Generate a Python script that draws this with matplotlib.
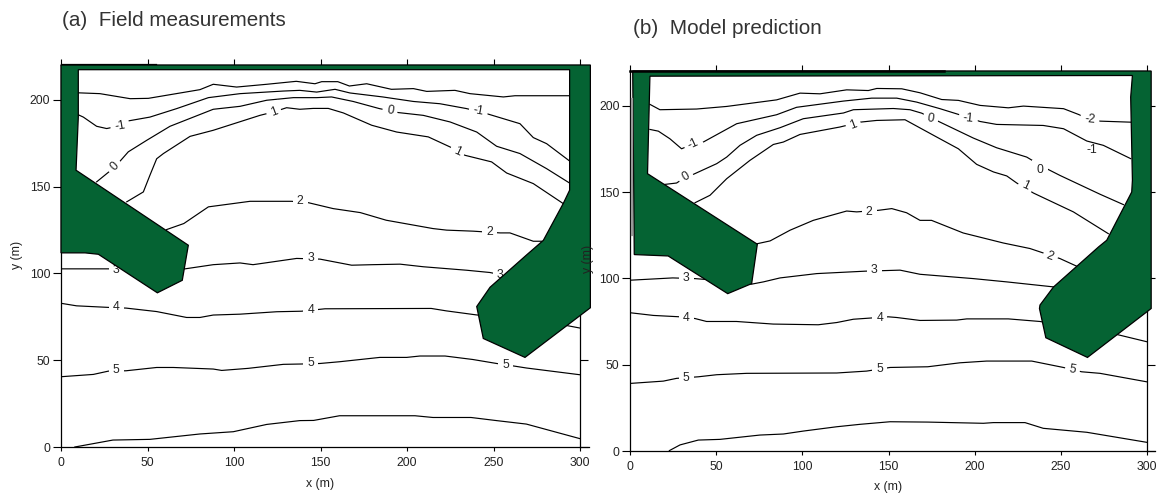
import numpy as np
import matplotlib
matplotlib.use("Agg")
import matplotlib.pyplot as plt
from matplotlib.patches import Polygon

plt.rcParams['font.family'] = ['Liberation Sans', 'DejaVu Sans']

GREEN = '#056333'
W, H = 1161, 494

# levels drawn on both panels (the last contour has no label in the picture)
x_ticks = [0, 50, 100, 150, 200, 250, 300]
y_ticks = [0, 50, 100, 150, 200]

a_m2 = [(9.4,204),(22.5,203.5),(40,200.6),(50.5,200.8),(80.3,205.8),(88,208.9),(101.5,207.3),(119,208.9),(136,210.6),(146.8,209.2),(150.7,210.4),(160,210.4),(166.7,207.9),(176.7,209.2),(191,206),(203.7,206.4),(211.4,204.8),(227.7,205.4),(236.4,203.5),(255.7,201.6),(262.4,202.3),(294,202.3)]
a_m1 = [(9.4,191.6),(12.9,190),(20.6,184.7),(26.4,183.4),(34,185),(38.9,187.8),(51.4,190),(66.9,194.9),(85.2,201.2),(103.5,203.5),(128.5,205),(138,205.4),(147.8,204.4),(158.4,206),(167,203.9),(186,201.6),(203.7,199),(219,197.7),(234.4,194.9),(246,192),(265.3,186.2),(273,178.2),(280.7,174.7),(294,164.7)]
a_0 = [(20.6,152.7),(31.2,161.3),(38.9,170),(49.5,176.6),(63,184.7),(88,194.5),(103.5,196.2),(118.9,199.7),(134.3,201.2),(147.8,201.2),(156.4,201.6),(168.9,199),(184,194.9),(195,192.6),(209.4,191),(224.9,187.2),(240.3,181.4),(251.8,173.2),(265.3,169),(280.7,160.3),(294,152)]
a_1 = [(38,141.2),(47.6,146.9),(51.4,156.5),(55.3,166),(59.2,169),(74.6,178.9),(88,182.4),(115,191),(123,193),(130.4,195.4),(138,194.5),(145.8,195),(154.5,195),(163.2,192.4),(179.6,185.3),(194,181.4),(212.3,178.6),(224.9,172.8),(233.5,168),(248.9,164.2),(257.6,157.8),(273,151.7),(290.3,140.2)]
a_2 = [(61,125.2),(71,128.7),(85.2,138.3),(109.3,141.5),(133.3,141.5),(143,140.7),(157.3,137.3),(173,135),(188,130.6),(215,125.8),(222.9,124.9),(238.3,124.3),(253.8,123.3),(259.5,123.3),(273,118.5),(277.9,118.5)]
a_3 = [(0.4,102.6),(27.4,102.6),(71.7,102.6),(88,105),(103.5,106),(111,105),(136.2,108.6),(149.7,108.2),(168,104.7),(180,105),(196,105.3),(209.5,103.8),(234.5,101.8),(247.9,100.5),(253.8,99.3)]
a_4 = [(0.4,82.7),(9,81.3),(27.4,80.4),(37.6,80),(55.3,78),(72.6,74.6),(80.3,74.6),(88,76),(103.5,76.5),(124.7,77.9),(139,78.2),(152.6,79.6),(214,79.8),(222.7,78.4),(239.9,76.1),(291,70.2),(300,68.5)]
a_5 = [(0.4,40.5),(18.7,41.8),(27.4,43.7),(37.6,43.9),(55.3,45.8),(64.9,45.8),(88,44.9),(92.9,44.1),(108.3,45.3),(128.5,47.6),(139,47.8),(149.7,48.1),(161,49.1),(184.3,51.6),(199.8,51.6),(207.5,52.4),(222,52.4),(238,50.4),(251.8,48.1),(262,46.6),(269,45.5),(300,41.6)]
a_6 = [(8,0),(30,4),(51.4,4.4),(80.3,7.5),(99.6,8.8),(118.9,13),(138,15.2),(146,15.3),(161,18),(204.6,18),(215,17),(237,17),(251.8,15.2),(269,13.2),(300,4.8)]
a_wall = [(0,220),(306,220),(306,80.2),(268.2,51.6),(244.1,62.5),(240.3,80.9),(248,92),(269,110.5),(278.8,119),(290.3,140.2),(294,147.9),(294,217.3),(10,217.3),(10,190),(8.7,159.4),(73.6,116.2),(70.1,96),(55.7,88.8),(21.6,111),(13.9,111.8),(0,111.8)]
a_labels = [('-1',34,185,10),('-1',241.2,193.3,-10),('0',31.2,161.3,45),('0',190.2,193.9,-10),('1',123,193,20),('1',229,170,-25),
            ('2',138.2,141.5,0),('2',247.6,123.9,0),('3',32,102.2,0),('3',144.3,108.6,0),('3',253.8,99.3,0),
            ('4',32,80.7,0),('4',144.3,78.8,0),('5',32,44.3,0),('5',144.3,48.1,0),('5',257,47.2,0)]

### (b) model prediction ###
b_m2 = [(11.4,200.7),(17.2,197.6),(38.5,198),(56,199.5),(85,203.3),(98.6,207.2),(110.2,206.8),(125.7,209.1),(138.3,208.7),(143.2,209.9),(157.7,209.7),(168.3,207.4),(180.9,203.5),(190.6,203),(203.2,200.1),(219.6,198.7),(228.4,199.7),(251.7,198.2),(260.3,194.9),(267,192),(272.9,191),(290.6,190.4)]
b_m1 = [(11.4,186.2),(16.3,185.2),(23,180.8),(29.8,175),(36.6,177.9),(42.4,178.9),(61.8,189.5),(85,194.7),(96.6,199),(123.8,202.6),(140.2,204.3),(154.8,204.3),(166.4,202),(179.9,198.2),(190.6,194.9),(203.2,190.8),(212.8,189.1),(239.9,188.5),(251.7,186.6),(265.2,179.5),(274.8,177),(290.7,169.3)]
b_0 = [(20.1,154.4),(26.9,155.2),(32.2,158.7),(36.6,160.2),(50.2,166.4),(56,170.2),(63.7,177),(73.4,182.8),(87,187.2),(100.5,192.4),(123.8,195.7),(129.6,197.6),(152.8,198.3),(162.5,197.6),(169.3,195.6),(180,190.4),(199.3,181.2),(212.8,175.6),(230.3,170.2),(239.9,164.5),(249.6,159.6),(272.9,148.7),(286.5,142.7)]
b_1 = [(37.6,143.8),(46.3,148.1),(56,157.7),(69.5,168.3),(83.1,177.5),(88.9,178.9),(98.6,183.3),(121.8,187.6),(133.4,190.4),(143.1,191.4),(159.6,191.8),(178,181.8),(190.6,175),(201.2,166),(211,161.6),(218.7,159.3),(224.5,155.2),(234.2,149.4),(257.4,138.5),(277.7,125.9)]
b_2 = [(72.4,119.8),(81.2,121.7),(92.8,127.9),(106.3,133.6),(125.7,139),(131.5,138.5),(144.1,139.4),(151.9,140.4),(160.5,138),(168.3,133.6),(175,133.6),(193.4,126.3),(216.7,120.5),(232.2,117.3),(249.6,111.5),(259.3,107.1)]
b_3 = [(0.4,99),(24.6,100.3),(37.6,99.9),(44,99.4),(70.5,96.7),(77.3,98),(87,100.3),(108.3,102.8),(136.4,104.2),(156.7,104.8),(168.3,102.4),(199.3,99.9),(218.7,98),(245.9,95.1)]
b_4 = [(0.4,80.1),(13.4,78.6),(28.9,77.8),(37.6,76.8),(44.3,75.1),(61.7,75.1),(83,73.6),(109.2,73.2),(120,74.5),(129.6,76.4),(149.9,77.8),(154.8,77.4),(168.3,75.7),(189.6,75.9),(195.5,76.6),(219.6,76.6),(238,75.1),(282.6,67.6),(300,63.4)]
b_5 = [(0.4,39.3),(19.2,40.6),(26.9,42.2),(39.5,43.1),(50.2,44.3),(67.6,45.1),(119.9,45.3),(137.3,46.4),(150.9,48.5),(172.8,48.9),(191.5,51.2),(207,52.2),(233.2,52.2),(251.6,48.5),(262.2,46),(272.9,45.1),(300,40.2)]
b_6 = [(22.7,0.4),(28.9,3.7),(39.5,6.5),(52.1,6.9),(75.3,9.4),(88.9,10),(100.5,11.7),(119.9,14.2),(133.4,15.6),(150.9,17.1),(172.8,16.9),(205.1,16.2),(210.9,16.6),(229.3,16.6),(239.9,13.3),(265.2,11),(300,5.2)]
b_wall = [(1.4,220),(302.6,220),(302.6,82.6),(265.6,54.3),(241.4,65.7),(237.7,82.6),(238,84.6),(245.8,95),(272,118.2),(276.8,122.1),(291.3,150),(291.7,156.8),(290.7,204.9),(291.7,217.4),(11.4,217),(10,160.6),(73.8,119.8),(70.5,97),(56.6,91.2),(22,113),(2.3,113.8)]
b_labels = [('-1',36.6,177.9,25),('-1',196.4,192.4,-5),('-2',267,192,-5),('0',32.2,158.7,30),('0',174.5,192.4,-10),('0',238,162.9,0),
            ('1',129.6,188.9,20),('1',229.7,153.5,-25),('2',138.7,138.5,0),('2',243.9,112.5,-20),
            ('3',32.4,100.5,0),('3',141.6,104.8,0),('4',32.4,77.4,0),('4',145,77.2,0),('5',32.4,42.6,0),('5',144.7,47.4,0),('5',256.9,47.4,-10)]

def add_axes(fig, left, right, top, bottom):
    ax = fig.add_axes([left/W, 1-bottom/H, (right-left)/W, (bottom-top)/H])
    ax.set_xlim(0, 300)
    ax.set_ylim(0, 220)
    ax.set_xticks(x_ticks)
    ax.set_yticks(y_ticks)
    ax.tick_params(axis='x', which='both', bottom=True, top=False, length=3, width=0.8, pad=4, labelsize=8.8, labelcolor='#222222')
    ax.tick_params(axis='y', which='both', left=True, right=True, length=5.8, width=0.8, pad=2, labelsize=8.8, labelcolor='#222222')
    # top ticks are separate since they point up with another length
    top_ax = ax.secondary_xaxis('top')
    top_ax.set_xticks(x_ticks)
    top_ax.tick_params(length=4.5, width=0.8, labeltop=False)
    top_ax.spines['top'].set_visible(False)
    for s in ax.spines.values():
        s.set_linewidth(0.9)
    return ax

def draw_panel(ax, contours, wall, labels):
    for c in contours:
        c = np.array(c)
        ax.plot(c[:,0], c[:,1], color='black', lw=0.85, zorder=2, clip_on=False)
    for txt, x, y, rot in labels:
        ax.text(x, y, txt, fontsize=8.8, color='#222222', ha='center', va='center', rotation=rot, zorder=2.5,
                bbox=dict(facecolor='white', edgecolor='none', pad=3))
    ax.add_patch(Polygon(wall, closed=True, facecolor=GREEN, edgecolor='black', lw=0.9, zorder=3, clip_on=False))

fig = plt.figure(figsize=(W/100, H/100), dpi=100, facecolor='white')

ax1 = add_axes(fig, 61, 580, 65, 447)
draw_panel(ax1, [a_m2, a_m1, a_0, a_1, a_2, a_3, a_4, a_5, a_6], a_wall, a_labels)
ax1.plot([0, 55], [220.6, 220.6], color='black', lw=0.9, zorder=4, clip_on=False)
ax1.plot([300, 305], [0, 0], color='black', lw=0.9, clip_on=False)

ax2 = add_axes(fig, 630.3, 1146.7, 71, 451.3)
draw_panel(ax2, [b_m2, b_m1, b_0, b_1, b_2, b_3, b_4, b_5, b_6], b_wall, b_labels)
# this -1 sits just under its line in the picture, so it gets no white box
ax2.text(268.4, 174.5, '-1', fontsize=8.8, color='#222222', ha='center', va='center', zorder=2.5)
ax2.plot([0, 182], [220, 220], color='black', lw=1.8, zorder=4, clip_on=False)
ax2.plot([0.8, 0.8], [125, 204], color='#999999', lw=1.6, zorder=4)
ax2.plot([300, 305], [0, 0], color='black', lw=0.9, clip_on=False)

fig.text(62/W, 1-20/H, '(a)  Field measurements', fontsize=14.9, color='#333333', ha='left', va='center')
fig.text(633/W, 1-29/H, '(b)  Model prediction', fontsize=14.9, color='#333333', ha='left', va='center')
fig.text(320/W, 1-484/H, 'x (m)', fontsize=8.8, color='#222222', ha='center', va='center')
fig.text(888/W, 1-487/H, 'x (m)', fontsize=8.8, color='#222222', ha='center', va='center')
fig.text(17/W, 1-255/H, 'y (m)', fontsize=8.8, color='#222222', ha='center', va='center', rotation=90)
fig.text(588/W, 1-259/H, 'y (m)', fontsize=8.8, color='#222222', ha='center', va='center', rotation=90, zorder=10)

fig.savefig('out.png', dpi=100)
